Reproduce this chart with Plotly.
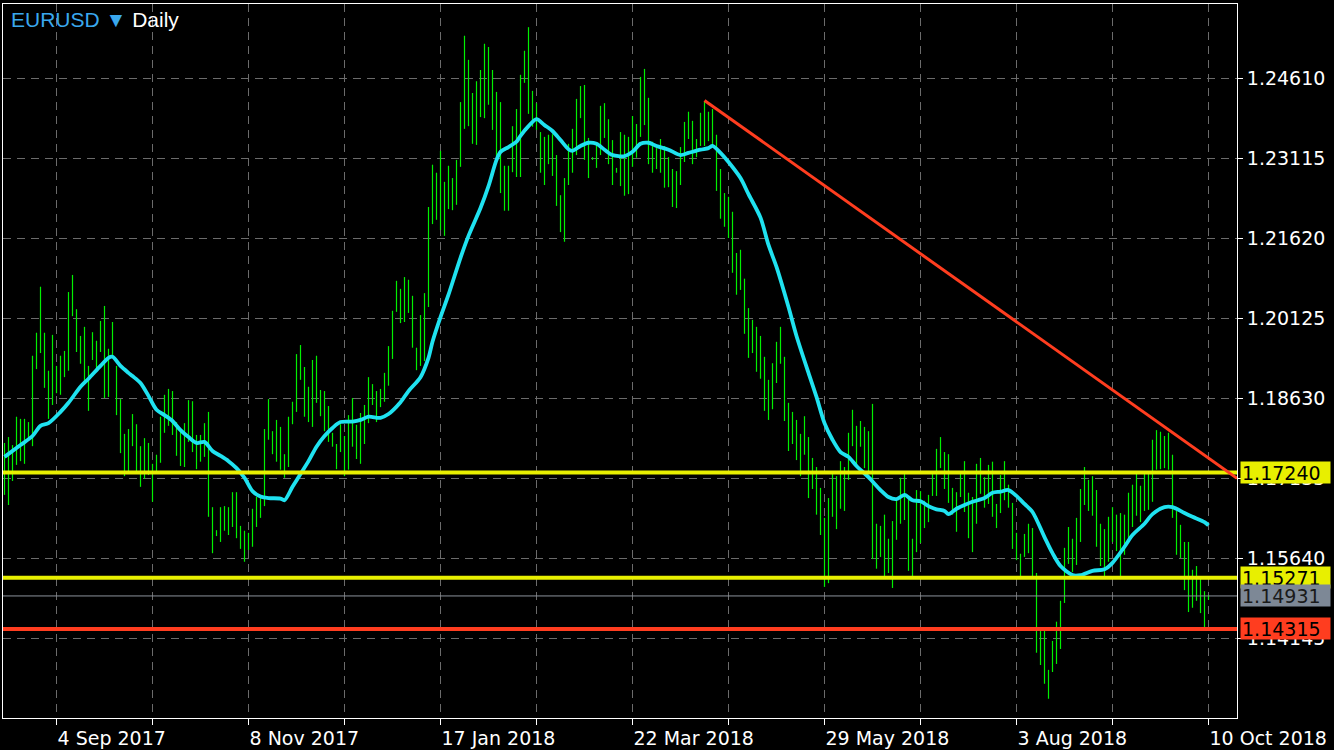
import plotly.graph_objects as go

# ---------------- data ----------------
highs = [
    1.1779, 1.1790, 1.1775, 1.1828, 1.1824, 1.1824, 1.1818, 1.1942, 1.1985, 1.2071,
    1.1985, 1.1914, 1.1981, 1.1923, 1.1942, 1.1951, 1.2061, 1.2093, 1.2029, 1.1979,
    1.1996, 1.1923, 1.1986, 1.1970, 1.2007, 1.2035, 1.1955, 1.2005, 1.1923, 1.1861,
    1.1796, 1.1805, 1.1833, 1.1814, 1.1773, 1.1788, 1.1779, 1.1740, 1.1757, 1.1828,
    1.1869, 1.1880, 1.1876, 1.1818, 1.1805, 1.1816, 1.1859, 1.1857, 1.1794, 1.1794,
    1.1816, 1.1837, 1.1659, 1.1616, 1.1659, 1.1661, 1.1659, 1.1687, 1.1687, 1.1624,
    1.1615, 1.1611, 1.1656, 1.1678, 1.1676, 1.1805, 1.1861, 1.1801, 1.1822, 1.1809,
    1.1758, 1.1828, 1.1856, 1.1945, 1.1962, 1.1921, 1.1884, 1.1934, 1.1942, 1.1878,
    1.1876, 1.1848, 1.1798, 1.1777, 1.1814, 1.1792, 1.1831, 1.1863, 1.1813, 1.1835,
    1.1850, 1.1902, 1.1889, 1.1876, 1.1880, 1.1910, 1.1960, 1.2026, 1.2082, 1.2067,
    1.2089, 1.2084, 1.2054, 1.1957, 1.2018, 1.2059, 1.2220, 1.2299, 1.2284, 1.2325,
    1.2267, 1.2297, 1.2274, 1.2308, 1.2416, 1.2540, 1.2495, 1.2433, 1.2455, 1.2476,
    1.2525, 1.2519, 1.2476, 1.2435, 1.2416, 1.2297, 1.2297, 1.2371, 1.2403, 1.2467,
    1.2512, 1.2556, 1.2437, 1.2414, 1.2360, 1.2351, 1.2355, 1.2356, 1.2317, 1.2242,
    1.2274, 1.2338, 1.2366, 1.2422, 1.2446, 1.2448, 1.2349, 1.2313, 1.2340, 1.2409,
    1.2414, 1.2384, 1.2345, 1.2293, 1.2360, 1.2355, 1.2351, 1.2390, 1.2375, 1.2463,
    1.2478, 1.2424, 1.2342, 1.2330, 1.2347, 1.2334, 1.2313, 1.2291, 1.2287, 1.2332,
    1.2379, 1.2398, 1.2381, 1.2347, 1.2396, 1.2418, 1.2398, 1.2403, 1.2355, 1.2291,
    1.2246, 1.2239, 1.2211, 1.2134, 1.2140, 1.2086, 1.2031, 1.2009, 1.1996, 1.1979,
    1.1940, 1.1897, 1.1928, 1.1968, 1.1996, 1.1940, 1.1854, 1.1837, 1.1822, 1.1796,
    1.1829, 1.1790, 1.1751, 1.1734, 1.1695, 1.1639, 1.1676, 1.1723, 1.1717, 1.1745,
    1.1734, 1.1798, 1.1841, 1.1811, 1.1820, 1.1809, 1.1801, 1.1852, 1.1628, 1.1624,
    1.1645, 1.1600, 1.1633, 1.1671, 1.1714, 1.1723, 1.1674, 1.1600, 1.1691, 1.1689,
    1.1671, 1.1682, 1.1723, 1.1768, 1.1790, 1.1762, 1.1758, 1.1695, 1.1687, 1.1723,
    1.1745, 1.1686, 1.1678, 1.1740, 1.1751, 1.1715, 1.1738, 1.1744, 1.1665, 1.1719,
    1.1745, 1.1701, 1.1667, 1.1611, 1.1572, 1.1609, 1.1628, 1.1620, 1.1536, 1.1429,
    1.1429, 1.1355, 1.1409, 1.1445, 1.1484, 1.1583, 1.1622, 1.1600, 1.1639, 1.1693,
    1.1734, 1.1710, 1.1717, 1.1691, 1.1628, 1.1618, 1.1641, 1.1659, 1.1645, 1.1648,
    1.1645, 1.1686, 1.1701, 1.1721, 1.1699, 1.1723, 1.1721, 1.1785, 1.1803, 1.1800,
    1.1792, 1.1798, 1.1757, 1.1652, 1.1626, 1.1594, 1.1594, 1.1542, 1.1549, 1.1527,
    1.1502, 1.1495,
]
lows = [
    1.1682, 1.1663, 1.1708, 1.1738, 1.1745, 1.1740, 1.1788, 1.1773, 1.1917, 1.1947,
    1.1882, 1.1824, 1.1850, 1.1872, 1.1869, 1.1902, 1.1914, 1.2016, 1.1949, 1.1927,
    1.1891, 1.1839, 1.1934, 1.1915, 1.1949, 1.1863, 1.1865, 1.1940, 1.1831, 1.1760,
    1.1717, 1.1721, 1.1773, 1.1721, 1.1697, 1.1712, 1.1719, 1.1669, 1.1721, 1.1742,
    1.1798, 1.1811, 1.1794, 1.1755, 1.1736, 1.1734, 1.1781, 1.1762, 1.1730, 1.1744,
    1.1753, 1.1641, 1.1573, 1.1605, 1.1594, 1.1615, 1.1607, 1.1622, 1.1601, 1.1581,
    1.1557, 1.1579, 1.1585, 1.1622, 1.1639, 1.1661, 1.1785, 1.1758, 1.1744, 1.1729,
    1.1714, 1.1734, 1.1814, 1.1837, 1.1897, 1.1828, 1.1818, 1.1809, 1.1854, 1.1829,
    1.1801, 1.1781, 1.1772, 1.1730, 1.1762, 1.1717, 1.1729, 1.1772, 1.1749, 1.1740,
    1.1777, 1.1816, 1.1850, 1.1818, 1.1846, 1.1856, 1.1886, 1.1936, 1.2024, 1.2003,
    1.2005, 1.2022, 1.1957, 1.1915, 1.1923, 1.1932, 1.2033, 1.2188, 1.2196, 1.2177,
    1.2166, 1.2216, 1.2214, 1.2224, 1.2295, 1.2366, 1.2371, 1.2338, 1.2336, 1.2388,
    1.2386, 1.2411, 1.2364, 1.2315, 1.2246, 1.2213, 1.2213, 1.2285, 1.2276, 1.2276,
    1.2452, 1.2394, 1.2370, 1.2364, 1.2284, 1.2261, 1.2300, 1.2278, 1.2222, 1.2173,
    1.2155, 1.2261, 1.2284, 1.2317, 1.2386, 1.2308, 1.2274, 1.2308, 1.2293, 1.2317,
    1.2349, 1.2300, 1.2261, 1.2284, 1.2259, 1.2241, 1.2244, 1.2295, 1.2312, 1.2351,
    1.2373, 1.2300, 1.2284, 1.2291, 1.2284, 1.2256, 1.2257, 1.2220, 1.2218, 1.2261,
    1.2304, 1.2347, 1.2300, 1.2313, 1.2334, 1.2334, 1.2343, 1.2332, 1.2250, 1.2198,
    1.2183, 1.2162, 1.2097, 1.2056, 1.2065, 1.1983, 1.1938, 1.1947, 1.1912, 1.1899,
    1.1839, 1.1822, 1.1842, 1.1891, 1.1927, 1.1820, 1.1764, 1.1777, 1.1747, 1.1717,
    1.1757, 1.1676, 1.1693, 1.1645, 1.1607, 1.1510, 1.1517, 1.1641, 1.1618, 1.1656,
    1.1652, 1.1710, 1.1773, 1.1736, 1.1772, 1.1732, 1.1723, 1.1562, 1.1544, 1.1566,
    1.1530, 1.1536, 1.1508, 1.1598, 1.1628, 1.1635, 1.1540, 1.1529, 1.1575, 1.1592,
    1.1620, 1.1631, 1.1680, 1.1680, 1.1732, 1.1693, 1.1667, 1.1645, 1.1613, 1.1678,
    1.1650, 1.1601, 1.1575, 1.1628, 1.1684, 1.1658, 1.1665, 1.1641, 1.1620, 1.1648,
    1.1672, 1.1658, 1.1581, 1.1560, 1.1530, 1.1566, 1.1573, 1.1530, 1.1387, 1.1364,
    1.1329, 1.1301, 1.1351, 1.1366, 1.1394, 1.1480, 1.1553, 1.1538, 1.1551, 1.1594,
    1.1663, 1.1652, 1.1643, 1.1585, 1.1549, 1.1530, 1.1557, 1.1594, 1.1577, 1.1530,
    1.1570, 1.1601, 1.1622, 1.1643, 1.1631, 1.1652, 1.1654, 1.1669, 1.1729, 1.1730,
    1.1732, 1.1729, 1.1639, 1.1570, 1.1564, 1.1504, 1.1463, 1.1471, 1.1484, 1.1461,
    1.1435, 1.1486,
]

# moving average (cyan line), sampled at bar numbers
ma_bar = [
    0, 4, 7, 9, 11, 14, 16, 19, 21, 24, 26, 27, 29, 31, 32, 34, 36, 38, 40, 42,
    44, 46, 48, 50, 52, 54, 56, 58, 60, 62, 64, 66, 69, 70, 72, 74, 76, 78, 80, 82,
    84, 87, 89, 91, 94, 96, 99, 101, 104, 106, 107, 109, 111, 114, 116, 119, 121, 123, 124, 126,
    128, 129, 131, 133, 135, 137, 139, 141, 142, 144, 146, 148, 150, 152, 155, 157, 159, 161, 163, 166,
    169, 171, 174, 176, 177, 179, 181, 184, 186, 189, 191, 193, 196, 198, 201, 203, 205, 207, 209, 211,
    213, 216, 219, 221, 223, 225, 227, 229, 231, 233, 235, 236, 238, 240, 242, 245, 247, 249, 251, 253,
    255, 257, 260, 262, 264, 267, 269, 272, 275, 277, 280, 282, 285, 287, 290, 292, 295, 297, 300, 301,
]
ma_val = [
    1.1753, 1.1775, 1.1792, 1.1811, 1.1816, 1.1837, 1.1854, 1.1884, 1.1899, 1.1923,
    1.1938, 1.1940, 1.1923, 1.1910, 1.1904, 1.1891, 1.1867, 1.1841, 1.1831, 1.1820,
    1.1803, 1.1790, 1.1779, 1.1781, 1.1764, 1.1755, 1.1745, 1.1732, 1.1714, 1.1689,
    1.1679, 1.1676, 1.1675, 1.1672, 1.1697, 1.1721, 1.1745, 1.1772, 1.1792, 1.1807,
    1.1818, 1.1819, 1.1822, 1.1828, 1.1826, 1.1833, 1.1855, 1.1876, 1.1902, 1.1938,
    1.1968, 1.2014, 1.2056, 1.2125, 1.2166, 1.2218, 1.2259, 1.2308, 1.2323, 1.2332,
    1.2342, 1.2353, 1.2371, 1.2384, 1.2373, 1.2362, 1.2345, 1.2328, 1.2325, 1.2334,
    1.2340, 1.2338, 1.2327, 1.2317, 1.2315, 1.2323, 1.2338, 1.2340, 1.2334, 1.2327,
    1.2317, 1.2321, 1.2327, 1.2330, 1.2334, 1.2321, 1.2304, 1.2274, 1.2244, 1.2200,
    1.2149, 1.2108, 1.2033, 1.1979, 1.1910, 1.1865, 1.1816, 1.1785, 1.1762, 1.1753,
    1.1736, 1.1715, 1.1691, 1.1678, 1.1674, 1.1682, 1.1672, 1.1670, 1.1661, 1.1655,
    1.1652, 1.1646, 1.1656, 1.1663, 1.1669, 1.1676, 1.1686, 1.1688, 1.1691, 1.1680,
    1.1665, 1.1650, 1.1603, 1.1573, 1.1549, 1.1532, 1.1532, 1.1540, 1.1543, 1.1555,
    1.1585, 1.1607, 1.1628, 1.1646, 1.1659, 1.1659, 1.1648, 1.1641, 1.1631, 1.1625,
]

price_ticks = [1.14145, 1.15640, 1.17135, 1.18630, 1.20125, 1.21620, 1.23115, 1.24610]
date_tick_bars = [13, 37, 61, 85, 109, 133, 157, 181, 205, 229, 253, 277, 301]
date_tick_labels = ["4 Sep 2017", "", "8 Nov 2017", "", "17 Jan 2018", "", "22 Mar 2018", "",
                    "29 May 2018", "", "3 Aug 2018", "", "10 Oct 2018"]

level_upper = 1.17240
level_lower = 1.15271
level_bid = 1.14931
level_red = 1.14315
trend_bars = [175, 308.125]
trend_prices = [1.2419, 1.1713]

symbol = "EURUSD"
timeframe = "Daily"

# ---------------- figure ----------------
GREEN = "#00f000"
CYAN = "#1fe2f0"
YELLOW = "#e8ef00"
RED = "#ff3d1f"
GREYLBL = "#7d8896"
GRID = "#6b6b6b"
FONT = "DejaVu Sans"

bx, by = [], []
for i, (h, l) in enumerate(zip(highs, lows)):
    bx += [i, i, None]
    by += [l, h, None]

fig = go.Figure()
fig.add_trace(go.Scatter(x=bx, y=by, mode="lines", line=dict(color=GREEN, width=1.2),
                         hoverinfo="skip", connectgaps=False))
fig.add_trace(go.Scatter(x=ma_bar, y=ma_val, mode="lines",
                         line=dict(color=CYAN, width=3.8, shape="spline", smoothing=0.8),
                         hoverinfo="skip"))

shapes = []
for lvl, col, w in [(level_bid, "#8c939c", 1), (level_upper, YELLOW, 4),
                    (level_lower, YELLOW, 4), (level_red, RED, 4)]:
    shapes.append(dict(type="line", xref="paper", yref="y", x0=0, x1=1, y0=lvl, y1=lvl,
                       line=dict(color=col, width=w), layer="above"))
shapes.append(dict(type="line", xref="x", yref="y", x0=trend_bars[0], x1=trend_bars[1],
                   y0=trend_prices[0], y1=trend_prices[1],
                   line=dict(color=RED, width=3), layer="above"))

annotations = []
for lvl, bg, fg in [(level_upper, YELLOW, "#000000"), (level_lower, YELLOW, "#000000"),
                    (level_bid, GREYLBL, "#1a1a1a"), (level_red, RED, "#000000")]:
    annotations.append(dict(x=1, xref="paper", y=lvl, yref="y", xanchor="left", yanchor="middle",
                            xshift=3, text=f"{lvl:.5f}", showarrow=False, align="left",
                            bgcolor=bg, borderpad=1, width=87, height=19,
                            font=dict(family=FONT, size=19, color=fg)))
annotations.append(dict(x=0.005, xref="paper", y=0.978, yref="paper", xanchor="left",
                        yanchor="middle", showarrow=False,
                        text=f"<span style='color:#3aa8ee'>{symbol} \u25BC</span> {timeframe}",
                        font=dict(family="Liberation Sans", size=21, color="#ffffff")))

fig.update_layout(
    width=1334, height=750,
    margin=dict(l=3, r=97, t=4, b=32, autoexpand=False),
    paper_bgcolor="#000000", plot_bgcolor="#000000",
    showlegend=False,
    shapes=shapes, annotations=annotations,
    xaxis=dict(range=[-0.375, 308.125], tickmode="array", tickvals=date_tick_bars,
               ticktext=date_tick_labels, showgrid=True, gridcolor=GRID, gridwidth=1,
               griddash="8px,6px", zeroline=False, showline=True, linecolor="#ffffff",
               linewidth=1, mirror=True, ticks="outside", ticklen=6, tickcolor="#ffffff",
               ticklabelposition="outside right", ticklabelstandoff=3, automargin=False,
               tickfont=dict(family=FONT, size=19, color="#ffffff")),
    yaxis=dict(range=[1.12650, 1.25993], side="right", tickmode="array",
               tickvals=price_ticks, ticktext=[f"{v:.5f}" for v in price_ticks],
               showgrid=True, gridcolor=GRID, gridwidth=1, griddash="8px,6px",
               zeroline=False, showline=True, linecolor="#ffffff", linewidth=1, mirror=True,
               ticks="outside", ticklen=5, tickcolor="#ffffff", automargin=False,
               tickfont=dict(family=FONT, size=19, color="#ffffff")),
)

fig.write_html("out.html", config={"displayModeBar": False},
               post_script="document.body.style.margin='0';document.body.style.background='#000';")
